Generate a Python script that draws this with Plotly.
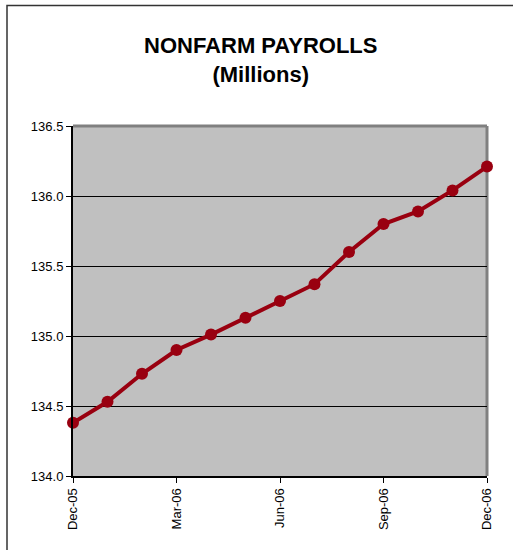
import plotly.graph_objects as go

months = ["Dec-05", "Jan-06", "Feb-06", "Mar-06", "Apr-06", "May-06", "Jun-06",
          "Jul-06", "Aug-06", "Sep-06", "Oct-06", "Nov-06", "Dec-06"]
payrolls = [134.38, 134.53, 134.73, 134.90, 135.01, 135.13, 135.25,
            135.37, 135.60, 135.80, 135.89, 136.04, 136.21]
tick_labels = ["Dec-05", "Mar-06", "Jun-06", "Sep-06", "Dec-06"]
y_ticks = [134.0, 134.5, 135.0, 135.5, 136.0, 136.5]

x_idx = list(range(len(months)))
tick_pos = [months.index(t) for t in tick_labels]

W, H = 513, 550
L, R, T, B = 73, 26, 126, 74
pw, ph = W - L - R, H - T - B

def px_x(p):
    return (p - L) / pw

def px_y(p):
    return (H - B - p) / ph

LINE_COLOR = "#990010"

fig = go.Figure()
fig.add_trace(go.Scatter(
    x=x_idx, y=payrolls, mode="lines+markers",
    line=dict(color=LINE_COLOR, width=4),
    marker=dict(color=LINE_COLOR, size=12),
    cliponaxis=False, hoverinfo="skip", showlegend=False,
    text=months,
))

fig.update_layout(
    width=W, height=H, autosize=False,
    margin=dict(l=L, r=R, t=T, b=B, pad=0),
    paper_bgcolor="white", plot_bgcolor="#C0C0C0",
    font=dict(family="Liberation Sans, Arial, sans-serif", size=13, color="black"),
    showlegend=False,
    xaxis=dict(
        range=[0, len(months) - 1], tickmode="array", tickvals=tick_pos,
        ticktext=tick_labels, tickangle=-90, ticks="outside", ticklen=5,
        tickcolor="black", tickwidth=1, showgrid=False, zeroline=False,
        showline=True, linecolor="black", linewidth=2,
        tickfont=dict(size=13), fixedrange=True,
    ),
    yaxis=dict(
        range=[134.0, 136.5], tickmode="array", tickvals=y_ticks,
        ticktext=[f"{v:.1f}" for v in y_ticks], ticks="outside", ticklen=5,
        tickcolor="black", tickwidth=1, showgrid=True, gridcolor="black",
        gridwidth=1, zeroline=False, showline=True, linecolor="black",
        linewidth=2, tickfont=dict(size=13), fixedrange=True,
    ),
    shapes=[
        dict(type="line", xref="x domain", yref="y domain", x0=0, x1=1, y0=1, y1=1,
             line=dict(color="#808080", width=3), layer="above"),
        dict(type="line", xref="x domain", yref="y domain", x0=1, x1=1, y0=0, y1=1,
             line=dict(color="#808080", width=3), layer="below"),
        dict(type="rect", xref="paper", yref="paper",
             x0=px_x(7), x1=px_x(W + 5), y0=px_y(H + 5), y1=px_y(5.5),
             line=dict(color="#333333", width=1.5), fillcolor="rgba(0,0,0,0)",
             layer="below"),
    ],
    annotations=[
        dict(text="<b>NONFARM PAYROLLS<br>(Millions)</b>", xref="paper", yref="paper",
             x=px_x(260), y=px_y(31), xanchor="center", yanchor="top",
             showarrow=False, align="center",
             font=dict(family="Liberation Sans, Arial, sans-serif", size=22, color="black")),
    ],
)

fig.write_html("out.html", config={"displayModeBar": False, "staticPlot": True},
               post_script="document.body.style.margin='0';document.body.style.padding='0';")
